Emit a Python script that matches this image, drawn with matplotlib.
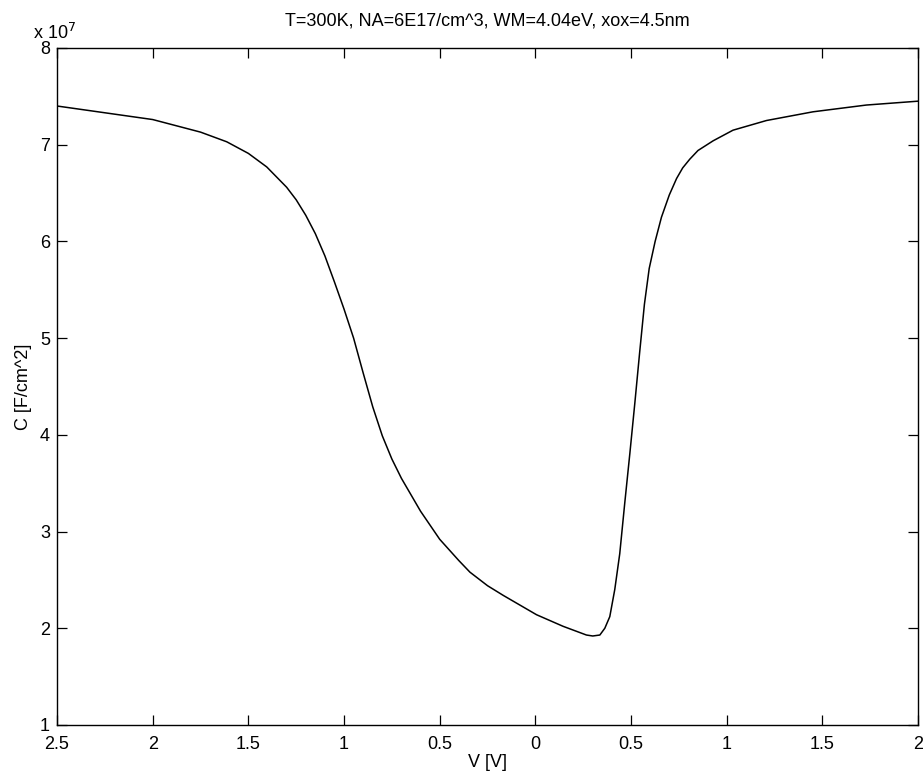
import numpy as np
import matplotlib
matplotlib.use('Agg')
import matplotlib.pyplot as plt

plt.rcParams['font.family'] = ['Liberation Sans', 'DejaVu Sans']

# gate voltage [V] and capacitance [x 1e7 F/cm^2]
v = [-2.5, -2.25, -2.0, -1.75, -1.613, -1.5, -1.404, -1.30, -1.25, -1.2,
     -1.15, -1.1, -1.05, -1.0, -0.95, -0.9, -0.85, -0.8, -0.75, -0.7,
     -0.6, -0.5, -0.4, -0.342, -0.25, -0.168, 0.006, 0.145, 0.267, 0.30,
     0.337, 0.363, 0.389, 0.415, 0.441, 0.467, 0.494, 0.52, 0.545, 0.57,
     0.595, 0.626, 0.659, 0.70, 0.738, 0.77, 0.807, 0.85, 0.929, 1.033,
     1.208, 1.451, 1.73, 2.0]
c = [7.40, 7.33, 7.26, 7.13, 7.03, 6.91, 6.77, 6.56, 6.43, 6.27,
     6.08, 5.85, 5.58, 5.30, 5.00, 4.64, 4.29, 3.99, 3.75, 3.55,
     3.21, 2.92, 2.70, 2.58, 2.44, 2.34, 2.14, 2.02, 1.93, 1.92,
     1.93, 2.00, 2.12, 2.40, 2.77, 3.29, 3.81, 4.33, 4.85, 5.35,
     5.72, 6.00, 6.25, 6.48, 6.65, 6.76, 6.85, 6.94, 7.04, 7.15,
     7.25, 7.34, 7.41, 7.45]

xticks = [-2.5, -2.0, -1.5, -1.0, -0.5, 0.0, 0.5, 1.0, 1.5, 2.0]
xticklabels = ['2.5', '2', '1.5', '1', '0.5', '0', '0.5', '1', '1.5', '2']
yticks = [1, 2, 3, 4, 5, 6, 7, 8]

fig = plt.figure(figsize=(9.23, 7.84), dpi=100)
ax = fig.add_axes([0.0618, 0.0753, 0.9328, 0.8635])

ax.plot(v, c, 'k-', lw=1.1)

ax.set_xlim(-2.5, 2.0)
ax.set_ylim(1, 8)
ax.set_xticks(xticks)
ax.set_xticklabels(xticklabels)
ax.set_yticks(yticks)
ax.set_yticklabels([str(t) for t in yticks])
ax.tick_params(direction='in', top=True, right=True, length=7, width=0.9,
               labelsize=13, pad=5)
ax.tick_params(axis='x', pad=8)
for s in ax.spines.values():
    s.set_linewidth(1.0)

ax.set_xlabel('V [V]', fontsize=13, labelpad=1)
ax.set_ylabel('C [F/cm^2]', fontsize=13, labelpad=6)
ax.set_title('T=300K, NA=6E17/cm^3, WM=4.04eV, xox=4.5nm', fontsize=13, pad=16)
ax.text(-0.028, 1.008, r'x 10$^{7}$', transform=ax.transAxes, fontsize=13,
        ha='left', va='bottom')

plt.savefig('out.png', dpi=100)
